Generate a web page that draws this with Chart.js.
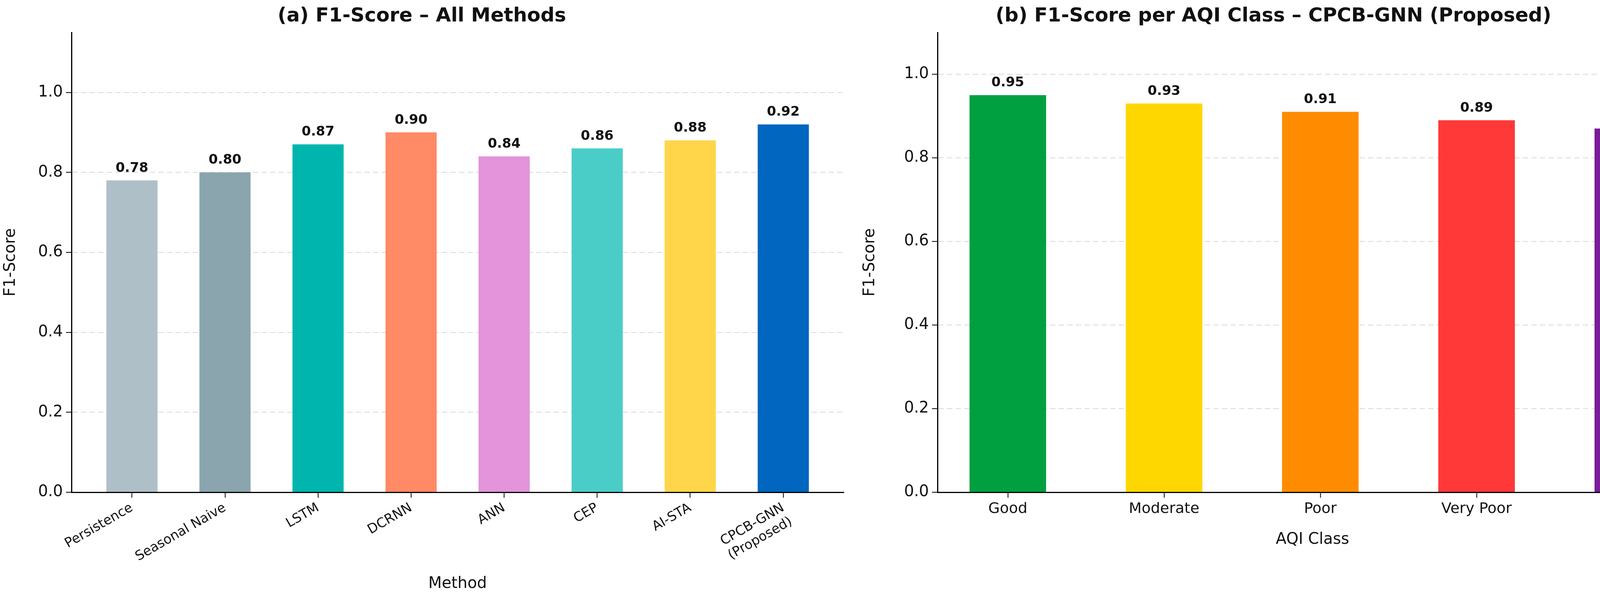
<!DOCTYPE html>
<html>
<head>
<meta charset="utf-8">
<script src="https://cdn.jsdelivr.net/npm/chart.js@4.4.1/dist/chart.umd.min.js"></script>
<style>
  html, body { margin: 0; padding: 0; background: #fff; overflow: hidden; }
  .panel { position: absolute; top: 0; height: 1523px; }
</style>
</head>
<body>
<div class="panel" style="left:0;width:2200px"><canvas id="methodsChart"></canvas></div>
<div class="panel" style="left:2200px;width:2147px"><canvas id="classChart"></canvas></div>
<script>
// panel (a): F1 per method
const methodLabels = ['Persistence', 'Seasonal Naive', 'LSTM', 'DCRNN', 'ANN', 'CEP', 'AI-STA', ['CPCB-GNN', '(Proposed)']];
const methodScores = [0.78, 0.80, 0.87, 0.90, 0.84, 0.86, 0.88, 0.92];
const methodColors = ['#aebfc7', '#8aa5ae', '#00b5ad', '#ff8a65', '#e394da', '#4bcdc7', '#ffd54a', '#0066c0'];

// panel (b): F1 per AQI class
const classLabels = ['Good', 'Moderate', 'Poor', 'Very Poor', 'Severe'];
const classScores = [0.95, 0.93, 0.91, 0.89, 0.87];
const classColors = ['#00a040', '#ffd700', '#ff8c00', '#ff3838', '#7b1b9a'];

const yTicks = [0, 0.2, 0.4, 0.6, 0.8, 1.0];
const FONT = '"DejaVu Sans", sans-serif';

// writes the value above each bar
const valueLabels = {
    id: 'valueLabels',
    afterDatasetsDraw(chart) {
        const ctx = chart.ctx;
        const meta = chart.getDatasetMeta(0);
        ctx.save();
        ctx.font = 'bold 34px ' + FONT;
        ctx.fillStyle = '#111';
        ctx.textAlign = 'center';
        ctx.textBaseline = 'bottom';
        meta.data.forEach((bar, i) => {
            const v = chart.data.datasets[0].data[i].y;
            ctx.fillText(v.toFixed(2), bar.x, bar.y - 14);
        });
        ctx.restore();
    }
};

function makeChart(id, cfg) {
    const points = cfg.values.map((v, i) => ({ x: i, y: v }));
    return new Chart(document.getElementById(id), {
        type: 'bar',
        data: {
            datasets: [{
                data: points,
                backgroundColor: cfg.colors,
                borderWidth: 0,
                barPercentage: cfg.barWidth,
                categoryPercentage: 1
            }]
        },
        options: {
            responsive: true,
            maintainAspectRatio: false,
            animation: false,
            layout: { padding: { right: cfg.padRight, bottom: cfg.padBottom } },
            plugins: {
                legend: { display: false },
                tooltip: { enabled: false },
                title: {
                    display: true,
                    text: cfg.title,
                    color: '#111',
                    font: { family: FONT, size: 50, weight: 'bold' },
                    padding: { top: 12, bottom: 11 }
                }
            },
            scales: {
                x: {
                    type: 'linear',
                    offset: false,
                    min: cfg.xMin,
                    max: cfg.xMax,
                    afterBuildTicks: axis => { axis.ticks = cfg.labels.map((_, i) => ({ value: i })); },
                    afterFit: axis => { axis.height = cfg.xHeight; },
                    border: { display: true, color: '#000', width: 3 },
                    grid: { offset: false, drawOnChartArea: false, drawTicks: true, tickLength: 14, tickColor: '#000', tickWidth: 2 },
                    ticks: {
                        autoSkip: false,
                        color: '#111',
                        font: { family: FONT, size: cfg.tickSize },
                        minRotation: cfg.rotation,
                        maxRotation: cfg.rotation,
                        padding: 6,
                        callback: v => cfg.labels[v]
                    },
                    title: {
                        display: true,
                        text: cfg.xTitle,
                        color: '#111',
                        font: { family: FONT, size: 40 },
                        padding: { top: 8 }
                    }
                },
                y: {
                    min: 0,
                    max: cfg.yMax,
                    afterBuildTicks: axis => { axis.ticks = yTicks.map(v => ({ value: v })); },
                    afterFit: axis => { axis.width = cfg.yWidth; },
                    border: { display: true, color: '#000', width: 3, dash: [14, 8] },
                    grid: {
                        color: '#d9d9d9', lineWidth: 2,
                        drawTicks: true, tickLength: 14, tickColor: '#000', tickWidth: 2, tickBorderDash: []
                    },
                    ticks: {
                        color: '#111',
                        font: { family: FONT, size: 40 },
                        padding: 8,
                        callback: v => v.toFixed(1)
                    },
                    title: {
                        display: true,
                        text: 'F1-Score',
                        color: '#111',
                        font: { family: FONT, size: 40 },
                        padding: { bottom: 8 }
                    }
                }
            }
        },
        plugins: [valueLabels]
    });
}

makeChart('methodsChart', {
    title: '(a) F1-Score \u2013 All Methods',
    labels: methodLabels, values: methodScores, colors: methodColors,
    xMin: -0.65, xMax: 7.65, barWidth: 0.55, yMax: 1.15,
    rotation: 30, tickSize: 34, xTitle: 'Method', yWidth: 183, padRight: 40,
    xHeight: 263, padBottom: 0
});

makeChart('classChart', {
    title: '(b) F1-Score per AQI Class \u2013 CPCB-GNN (Proposed)',
    labels: classLabels, values: classScores, colors: classColors,
    xMin: -0.45, xMax: 4.35, barWidth: 0.49, yMax: 1.1,
    rotation: 0, tickSize: 38, xTitle: 'AQI Class', yWidth: 200, padRight: 27,
    xHeight: 150, padBottom: 113
});
</script>
</body>
</html>
